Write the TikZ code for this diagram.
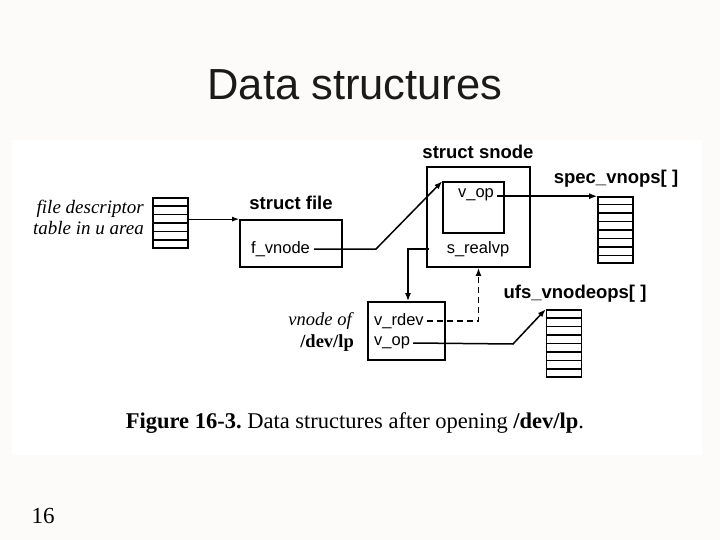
\documentclass[tikz,border=0pt]{standalone}
\usepackage{fontspec}
\setmainfont{Liberation Serif}
\setsansfont{Liberation Sans}
\usetikzlibrary{arrows.meta,calc}
\definecolor{pagebg}{RGB}{252,251,249}
\definecolor{titlecol}{RGB}{26,26,26}
\begin{document}
\begin{tikzpicture}[x=1pt,y=-1pt,
  box/.style={draw, line width=1.8pt, inner sep=0pt},
  tbl/.style={draw, line width=1.6pt, inner sep=0pt, minimum width=35pt},
  lbl/.style={font=\sffamily\bfseries\fontsize{18.5}{20}\selectfont, inner sep=0pt, anchor=base},
  fld/.style={font=\sffamily\fontsize{16.5}{18}\selectfont, inner sep=0pt},
  conn/.style={line width=1.5pt},
  tip/.style={-{Latex[length=8pt,width=6pt]}}
]
% background
\fill[pagebg] (0,0) rectangle (720,540);
\fill[white] (12,140) rectangle (702,455);
\useasboundingbox (0,0) rectangle (720,540);

% title and page number
\node[font=\sffamily\fontsize{43.5}{46}\selectfont, anchor=base, text=titlecol, inner sep=0pt] (title) at (355,100) {Data structures};
\node[font=\fontsize{23}{25}\selectfont, anchor=base, inner sep=0pt] (pg) at (43,523) {16};

% tables
\node[tbl, minimum height=50pt] (fdt) at (170.5,223) {};
\foreach \i in {1,...,5}
  \draw[line width=1.5pt] ($(fdt.north west)!\i/6!(fdt.south west)$) -- ++(35,0);
\node[tbl, minimum height=66pt] (spec) at (615.5,230) {};
\foreach \i in {1,...,7}
  \draw[line width=1.5pt] ($(spec.north west)!\i/8!(spec.south west)$) -- ++(35,0);
\node[tbl, minimum height=67pt] (ufs) at (564,343.5) {};
\foreach \i in {1,...,7}
  \draw[line width=1.5pt] ($(ufs.north west)!\i/8!(ufs.south west)$) -- ++(35,0);

% boxes
\node[box, minimum width=102pt, minimum height=47pt] (file) at (291,243.5) {};
\node[box, minimum width=103pt, minimum height=100pt] (snode) at (478.5,217) {};
\node[box, line width=1.5pt, minimum width=61pt, minimum height=51pt] (inner) at (473.5,207.5) {};
\node[box, minimum width=77pt, minimum height=58pt] (vnode) at (406.5,331) {};

% labels
\node[lbl] (lfile) at (291,210) {struct file};
\node[lbl] (lsnode) at (478,159) {struct snode};
\node[lbl] (lspec) at (616,184) {spec\_vnops[ ]};
\node[lbl] (lufs) at (575,298) {ufs\_vnodeops[ ]};

% fields
\node[fld, anchor=west] (fvnode) at (251,249) {f\_vnode};
\node[fld] (vop1) at (476,195) {v\_op};
\node[fld] (srealvp) at (478,249) {s\_realvp};
\node[fld, anchor=west] (vrdev) at (374,321) {v\_rdev};
\node[fld, anchor=west] (vop2) at (374,343) {v\_op};

% side texts
\node[font=\itshape\fontsize{19}{21}\selectfont, align=right, anchor=east, inner sep=0pt] (fdlabel) at (144,217) {file descriptor\\table in u area};
\node[align=right, anchor=east, inner sep=0pt, font=\fontsize{18.5}{22}\selectfont] (vnlabel) at (354,332) {\textit{vnode of}\\\textbf{/dev/lp}};

% caption
\node[font=\fontsize{22.5}{24}\selectfont, anchor=base, inner sep=0pt] (cap) at (355,428) {\frenchspacing\textbf{Figure 16-3.} Data structures after opening \textbf{/dev/lp}.};

% connectors
\draw[line width=1pt, -{Latex[length=7pt,width=5pt]}] (fdt.east |- file.north west) -- (file.north west);
\coordinate (b1) at (376,249);
\draw[conn, tip] ([xshift=4pt]fvnode.east) -- (b1) -- (inner.north west);
\draw[conn, tip] ([xshift=3pt]vop1.east |- spec.north west) -- (spec.north west);
\coordinate (b2) at (408,249);
\draw[conn, tip] ([xshift=3pt]snode.west |- srealvp.west) -- (b2) -- (b2 |- vnode.north);
\coordinate (b3) at (snode.south |- vrdev.east);
\draw[conn, tip, dash pattern=on 6pt off 4pt] ([xshift=3pt]vrdev.east) -- (b3) -- (snode.south);
\coordinate (b4) at (513,344);
\draw[conn, tip] ([xshift=3pt]vop2.east) -- (b4) -- (ufs.north west);
\end{tikzpicture}
\end{document}
